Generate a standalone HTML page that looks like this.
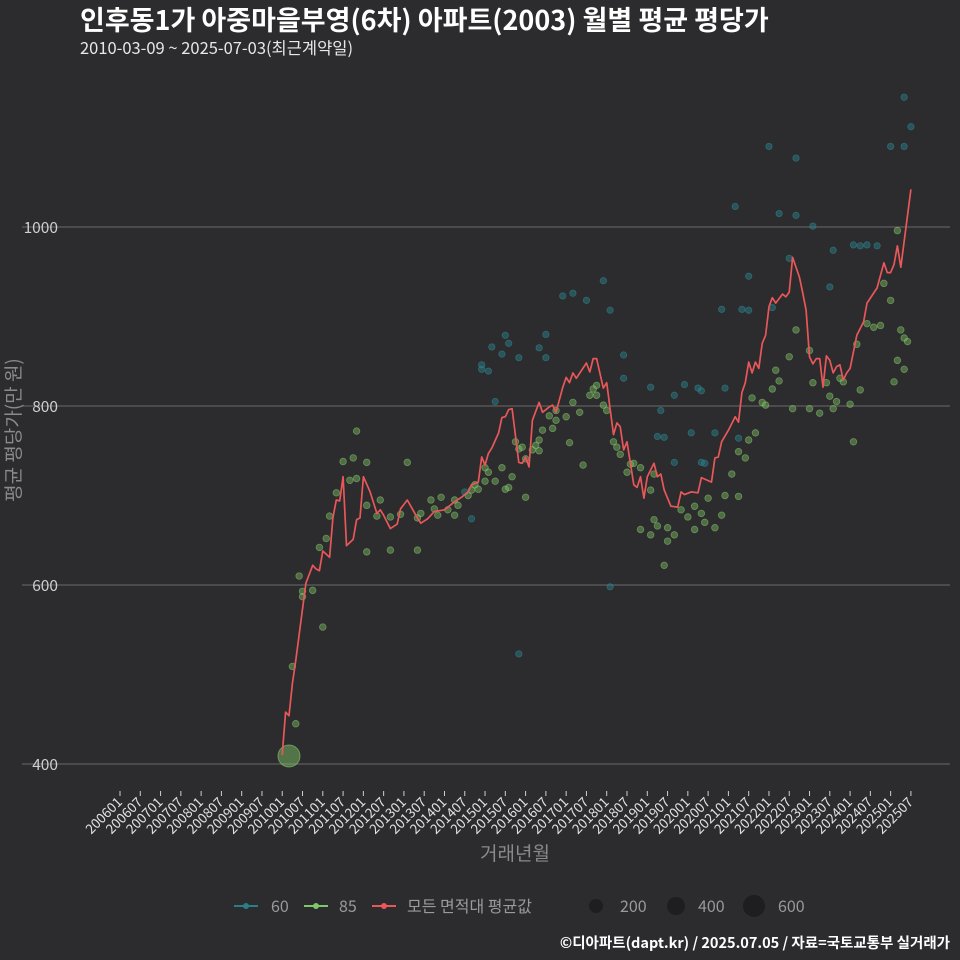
<!DOCTYPE html>
<html><head><meta charset="utf-8">
<style>
body{margin:0;background:#2c2b2d;}
svg{display:block;font-family:"Noto Sans CJK KR","Liberation Sans",sans-serif;}
</style></head>
<body>
<svg id="chart" width="960" height="960" viewBox="0 0 960 960">
<rect width="960" height="960" fill="#2c2b2d"/>
<text x="80" y="30" font-size="27" font-weight="bold" fill="#ffffff">인후동1가 아중마을부영(6차) 아파트(2003) 월별 평균 평당가</text>
<text x="80" y="54" font-size="16.5" fill="#e8e8e8">2010-03-09 ~ 2025-07-03(최근계약일)</text>
<g id="grid"></g>
<g id="yticks"></g>
<g id="xticks"></g>
<g id="pts"></g>
<g id="line"></g>
<text transform="translate(20,430) rotate(-90)" text-anchor="middle" font-size="19" fill="#8a8a8a">평균 평당가(만 원)</text>
<text x="515" y="860" text-anchor="middle" font-size="19" fill="#8a8a8a">거래년월</text>
<g>
<g><line x1="234" y1="906" x2="258" y2="906" stroke="#2a7f86" stroke-width="2"/><circle cx="246" cy="906" r="3" fill="#2a7f86"/><text x="271" y="912" font-size="16" fill="#9a9a9a">60</text></g>
<g><line x1="304" y1="906" x2="328" y2="906" stroke="#7fc86a" stroke-width="2"/><circle cx="316" cy="906" r="3" fill="#7fc86a"/><text x="339" y="912" font-size="16" fill="#9a9a9a">85</text></g>
<g><line x1="372" y1="906" x2="396" y2="906" stroke="#e8585a" stroke-width="2"/><circle cx="384" cy="906" r="3" fill="#e8585a"/><text x="407" y="912" font-size="16" fill="#9a9a9a">모든 면적대 평균값</text></g>
<g><circle cx="596" cy="906" r="7" fill="#1e1d1f"/><text x="620" y="912" font-size="16" fill="#9a9a9a">200</text></g>
<g><circle cx="676" cy="906" r="9" fill="#1e1d1f"/><text x="698" y="912" font-size="16" fill="#9a9a9a">400</text></g>
<g><circle cx="754" cy="906" r="11" fill="#1e1d1f"/><text x="778" y="912" font-size="16" fill="#9a9a9a">600</text></g>
</g>
<text x="950" y="948" text-anchor="end" font-size="14.5" font-weight="bold" fill="#ffffff">©디아파트(dapt.kr) / 2025.07.05 / 자료=국토교통부 실거래가</text>
</svg>
<script>
// months are offsets from 2006-01
const yTicks=[400,600,800,1000];
const xTickLabels=[];
for(let y=2006;y<=2025;y++){xTickLabels.push(y+"01");xTickLabels.push(y+"07");}
const avgMonths=[48,49,50,51,52,55,57,58,59,60,62,63,64,65,66,67,69,70,71,72,74,76,77,78,80,82,83,85,88,89,91,93,96,99,101,103,104,106,107,108,109,110,112,113,114,115,116,118,119,120,121,122,124,125,127,128,129,131,132,133,134,135,138,139,140,141,143,144,146,147,148,149,150,152,153,154,155,156,158,159,160,161,163,165,166,167,169,171,172,175,176,177,178,180,182,183,184,185,186,187,188,189,190,191,192,193,194,196,197,198,199,201,202,203,204,205,206,207,208,209,210,211,212,213,214,215,216,218,220,221,224,226,227,228,229,230,231,234];
const avgValues=[410,458,454,490,516,602,622,618,616,638,631,675,695,694,721,644,651,673,675,721,704,680,684,678,663,668,685,695,675,669,674,682,684,693,698,704,712,715,743,734,747,753,770,787,788,796,797,737,736,743,732,784,804,793,799,801,793,821,832,826,837,831,848,838,853,853,820,826,768,781,777,751,760,712,709,721,697,721,736,721,724,706,688,687,704,701,704,703,720,715,742,743,760,773,788,782,815,826,849,837,849,842,870,879,911,921,915,925,922,927,966,944,926,907,855,847,853,853,821,856,851,837,844,846,829,837,842,879,894,915,932,960,949,949,958,979,955,1042];
const p60=[[232,1145],[234,1112],[228,1090],[232,1090],[192,1090],[200,1077],[182,1023],[195,1015],[200,1013],[205,1001],[221,980],[224,979],[186,945],[198,965],[211,974],[219,979],[217,980],[210,933],[193,910],[186,907],[178,908],[184,908],[172,817],[179,820],[143,940],[134,926],[131,923],[138,918],[145,907],[126,880],[124,865],[126,854],[114,879],[115,870],[118,854],[111,805],[109,839],[113,858],[107,841],[107,846],[110,866],[149,857],[149,831],[157,821],[160,795],[167,824],[171,820],[169,770],[176,770],[164,812],[159,766],[161,765],[145,598],[118,523],[104,674],[102,704],[164,737],[172,737],[173,736],[183,764]];
const p85=[[52,445],[51,509],[53,610],[54,587],[54,593],[57,594],[60,553],[59,642],[61,652],[62,677],[64,703],[68,717],[70,719],[69,742],[66,738],[70,772],[73,737],[73,637],[73,689],[76,677],[77,695],[80,639],[80,676],[83,679],[85,737],[88,675],[88,639],[89,680],[92,695],[93,685],[94,678],[95,698],[97,684],[99,695],[99,678],[100,689],[103,700],[104,706],[105,712],[106,707],[108,731],[108,716],[109,726],[111,716],[113,731],[114,707],[115,709],[116,721],[117,760],[118,752],[119,754],[120,698],[120,741],[122,751],[123,756],[124,750],[124,762],[125,773],[127,789],[128,775],[129,784],[129,795],[132,788],[133,759],[134,804],[136,793],[137,734],[139,812],[140,819],[141,823],[141,812],[143,801],[144,795],[146,760],[147,754],[148,746],[150,726],[151,735],[152,736],[154,731],[157,706],[158,724],[154,662],[157,656],[158,673],[159,666],[161,622],[162,664],[162,649],[164,656],[166,684],[168,676],[170,688],[170,662],[172,680],[173,670],[174,697],[176,664],[178,678],[179,700],[181,724],[183,749],[183,699],[185,742],[186,762],[187,809],[188,770],[190,804],[191,801],[193,819],[194,840],[195,828],[198,855],[199,797],[200,885],[204,797],[204,862],[205,826],[207,792],[209,826],[210,811],[211,797],[212,805],[213,831],[214,827],[216,802],[217,760],[218,869],[219,818],[221,892],[223,888],[225,890],[226,937],[228,918],[230,996],[230,851],[231,885],[232,876],[233,872],[232,841],[229,827]];
const bigPoint=[50,409];

const NS="http://www.w3.org/2000/svg";
const X=m=>120+m*3.38;
const Y=v=>764-(v-400)*179/200;
function mk(tag,attrs,parent){const e=document.createElementNS(NS,tag);for(const k in attrs)e.setAttribute(k,attrs[k]);parent.appendChild(e);return e;}
const grid=document.getElementById('grid'),yt=document.getElementById('yticks'),xt=document.getElementById('xticks');
yTicks.forEach(v=>{
 const l=mk('line',{x1:22,x2:950,y1:Y(v),y2:Y(v),stroke:'#5e5d60','stroke-width':1.3},grid);
 
 
 const t=mk('text',{x:58,y:Y(v)+6,'text-anchor':'end','font-size':15.5,fill:'#cfcfcf'},yt);
 t.textContent=v;
 
 
});
xTickLabels.forEach((lab,i)=>{
 const x=X(i*6);
 const tk=mk('line',{x1:x,x2:x,y1:791,y2:796,stroke:'#cfcfcf','stroke-width':1},xt);
 
 
 const t=mk('text',{x:x+3,y:803,'text-anchor':'end','font-size':13.5,fill:'#e0e0e0',transform:`rotate(-45 ${x+3} 803)`},xt);
 t.textContent=lab;
 
 
});
const pts=document.getElementById('pts');
const b=mk('circle',{cx:X(bigPoint[0]),cy:Y(bigPoint[1]),r:11,fill:'rgba(120,190,100,0.5)',stroke:'rgba(150,210,120,0.55)'},pts);


p60.forEach(p=>{
 const c=mk('circle',{cx:X(p[0]),cy:Y(p[1]),r:3.2,fill:'rgba(40,125,135,0.5)',stroke:'rgba(50,140,150,0.55)','stroke-width':0.8},pts);
 
 
});
p85.forEach(p=>{
 const c=mk('circle',{cx:X(p[0]),cy:Y(p[1]),r:3.3,fill:'rgba(120,190,100,0.45)',stroke:'rgba(150,210,120,0.5)','stroke-width':0.8},pts);
 
 
});
const d=avgMonths.map((m,i)=>(i?'L':'M')+X(m).toFixed(1)+','+Y(avgValues[i]).toFixed(1)).join('');
const pl=mk('path',{d:d,fill:'none',stroke:'#e8585a','stroke-width':1.7,'stroke-linejoin':'round'},document.getElementById('line'));


</script>
</body></html>
